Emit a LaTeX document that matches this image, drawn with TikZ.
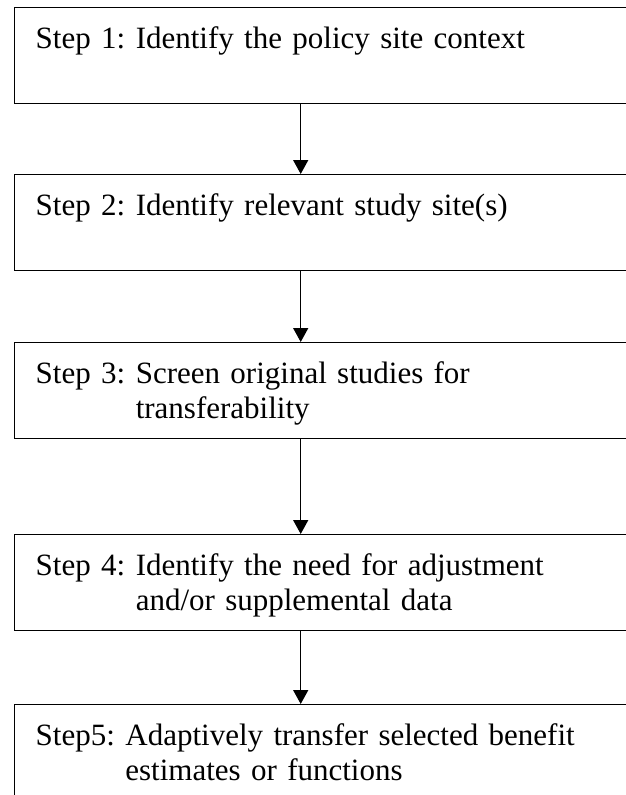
\documentclass[tikz,border=0pt]{standalone}
\usepackage{fontspec}
\setmainfont{Liberation Serif}
\usetikzlibrary{arrows.meta}
\newcommand{\steptext}{\fontsize{31}{35}\selectfont}
\newcommand{\steplines}[2]{\begin{tabular}[t]{@{}l@{\hspace{10.5pt}}l@{}}#1 & #2\end{tabular}}
\begin{document}
\begin{tikzpicture}[x=1pt, y=-1pt,
	stepbox/.style={draw, line width=1.4pt, inner xsep=21.5pt, inner ysep=0pt,
		text width=600pt, align=left, text height=41pt, text depth=55pt,
		font=\steptext},
	flow/.style={-{Triangle[width=15pt, length=14pt]}, line width=1.5pt}]
	\clip (0,0) rectangle (626,795);
	\fill[white] (0,0) rectangle (626,795);
	% the five steps
	\draw node[stepbox, anchor=north west] at (13.5,7) (s1)
		{\steplines{Step 1:}{Identify the policy site context}};
	\draw node[stepbox] [below of=s1, node distance=167pt] (s2)
		{\steplines{Step 2:}{Identify relevant study site(s)}};
	\draw node[stepbox] [below of=s2, node distance=168pt] (s3)
		{\steplines{Step 3:}{Screen original studies for\\ & transferability}};
	\draw node[stepbox] [below of=s3, node distance=192pt] (s4)
		{\steplines{Step 4:}{Identify the need for adjustment\\ & and/or supplemental data}};
	\draw node[stepbox] [below of=s4, node distance=170pt] (s5)
		{\steplines{Step5:}{Adaptively transfer selected benefit\\ & estimates or functions}};
	% arrows
	\coordinate (ax) at (300.7,0);
	\draw[flow] (s1.south -| ax) -- (s2.north -| ax);
	\draw[flow] (s2.south -| ax) -- (s3.north -| ax);
	\draw[flow] (s3.south -| ax) -- (s4.north -| ax);
	\draw[flow] (s4.south -| ax) -- (s5.north -| ax);
\end{tikzpicture}
\end{document}
